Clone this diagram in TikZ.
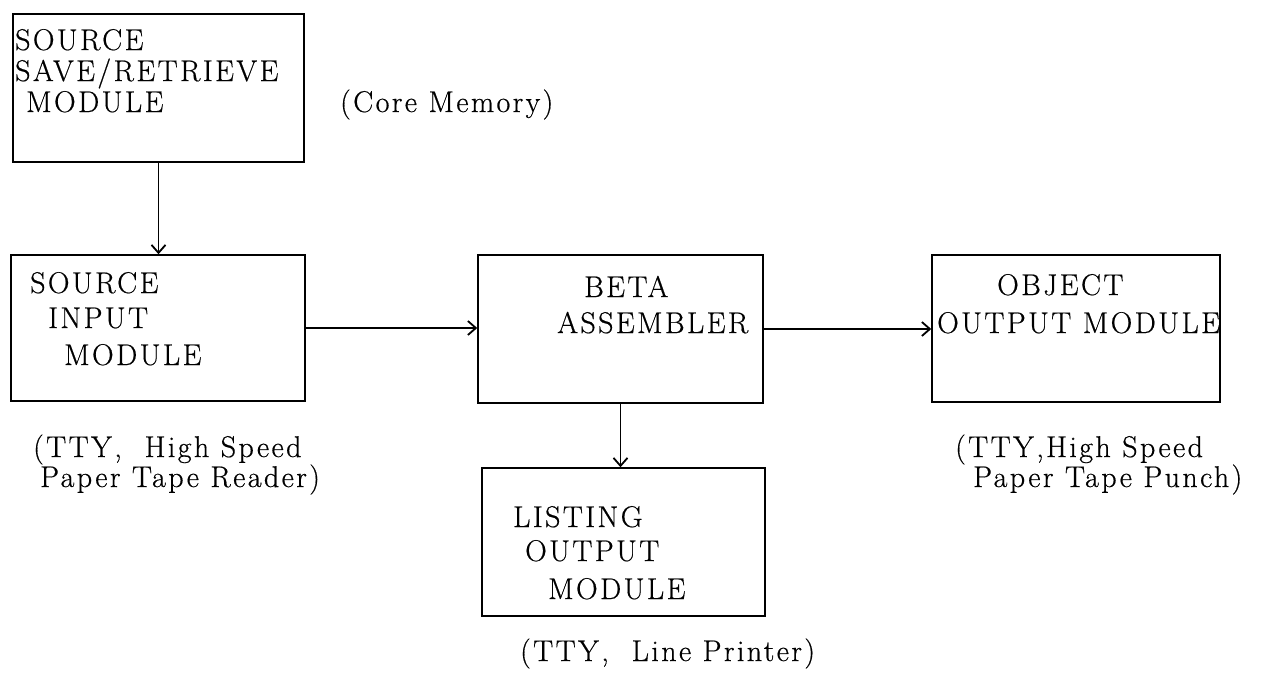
\documentclass[tikz,border=0pt]{standalone}
\usepackage{fontspec}
\newfontfamily\typefont[LetterSpace=8,FakeBold=0.5]{Latin Modern Roman}
\usetikzlibrary{arrows.meta}
\begin{document}
\begin{tikzpicture}[x=1pt,y=-1pt,
  box/.style={draw, line width=1.5pt, rectangle, inner sep=0pt},
  txt/.style={anchor=base west, inner sep=0pt, font=\typefont\fontsize{30}{36}\selectfont},
  flow/.style={line width=1.5pt, -{Straight Barb[length=8pt,width=14pt,line width=1.8pt]}}]
\useasboundingbox[fill=white] (0,0) rectangle (1261,686);

% module boxes
\node[box, minimum width=291pt, minimum height=148pt] (save) at (158.5,88) {};
\node[box, minimum width=294pt, minimum height=146pt] (input) at (158,328) {};
\node[box, minimum width=285pt, minimum height=148pt] (beta) at (620.5,329) {};
\node[box, minimum width=283pt, minimum height=148pt] (list) at (623.5,542) {};
\node[box, minimum width=288pt, minimum height=147pt] (object) at (1076,328.5) {};

% box labels
\node[txt] (s1) at (15,50) {SOURCE};
\node[txt] (s2) at (15,81) {SAVE/RETRIEVE};
\node[txt] (s3) at (26,112) {MODULE};
\node[txt] (core) at (340,112) {(Core Memory)};

\node[txt] (i1) at (30,293) {SOURCE};
\node[txt] (i2) at (48,328) {INPUT};
\node[txt] (i3) at (64,365) {MODULE};

\node[txt] (b1) at (584,297) {BETA};
\node[txt] (b2) at (557,333) {ASSEMBLER};

\node[txt] (o1) at (997,295) {OBJECT};
\node[txt] (o2) at (937,333) {OUTPUT MODULE};

\node[txt] (l1) at (513,527) {LISTING};
\node[txt] (l2) at (525,561) {OUTPUT};
\node[txt] (l3) at (548,599) {MODULE};

% device notes
\node[txt] (d1) at (33,457) {(TTY,\ \ High Speed};
\node[txt] (d2) at (40,487) {Paper Tape Reader)};
\node[txt] (d3) at (955,457) {(TTY,High Speed};
\node[txt] (d4) at (973,487) {Paper Tape Punch)};
\node[txt] (d5) at (520,661) {(TTY,\ \ Line Printer)};

% data flow
\draw[flow] (save.south) -- (save.south |- input.north);
\draw[flow] (input.east) -- (input.east -| beta.west);
\draw[flow] (beta.east) -- (beta.east -| object.west);
\draw[flow] (beta.south) -- (beta.south |- list.north);
\end{tikzpicture}
\end{document}
